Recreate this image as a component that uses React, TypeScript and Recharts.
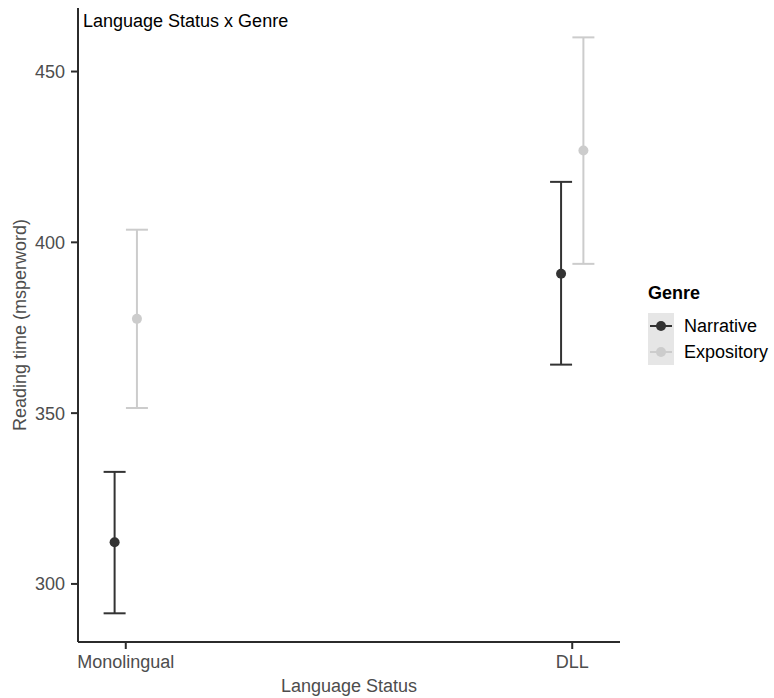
import React from 'react';
import {
  ScatterChart,
  Scatter,
  XAxis,
  YAxis,
  ErrorBar,
  Legend,
  Customized,
} from 'recharts';

// Mean reading time per word with interval bounds, by language status and genre
const categories = ['Monolingual', 'DLL'];
const genres = ['Narrative', 'Expository'];
const genreColors = ['#333333', '#cccccc'];

const narrativeMean = [312.2, 390.8];
const narrativeLow = [291.4, 364.2];
const narrativeHigh = [332.8, 417.7];

const expositoryMean = [377.6, 426.9];
const expositoryLow = [351.5, 393.7];
const expositoryHigh = [403.7, 460.0];

const yTicks = [300, 350, 400, 450];

const FONT = '"Liberation Sans", Arial, Helvetica, sans-serif';
const AXIS_COLOR = '#2b2b2b';
const TEXT_COLOR = '#4d4d4d';

// points are dodged a little either side of the category position
const DODGE = 0.025;

const buildSeries = (mean: number[], low: number[], high: number[], shift: number) =>
  categories.map((cat, i) => ({
    category: cat,
    x: i + 1 + shift,
    y: mean[i],
    err: [mean[i] - low[i], high[i] - mean[i]],
  }));

const narrativeData = buildSeries(narrativeMean, narrativeLow, narrativeHigh, -DODGE);
const expositoryData = buildSeries(expositoryMean, expositoryLow, expositoryHigh, DODGE);

const makeDot = (color: string) => (props: any) =>
  <circle cx={props.cx} cy={props.cy} r={5} fill={color} />;

const ChartTitle = () => (
  <text x={83} y={27} fontSize={18} fill="#000000" fontFamily={FONT}>
    Language Status x Genre
  </text>
);

const YTitle = (props: any) => {
  const vb = props.viewBox || { x: 0, y: 8, width: 78, height: 634 };
  const cx = vb.x + 26;
  const cy = vb.y + vb.height / 2;
  return (
    <text
      x={cx}
      y={cy}
      transform={`rotate(-90 ${cx} ${cy})`}
      textAnchor="middle"
      fontSize={18}
      fill={TEXT_COLOR}
      fontFamily={FONT}
    >
      Reading time (msperword)
    </text>
  );
};

const GenreLegend = ({ payload }: any) => {
  // keep the legend in series order rather than alphabetical
  const items = [...(payload || [])].sort(
    (a: any, b: any) => genres.indexOf(a.value) - genres.indexOf(b.value)
  );
  return (
    <div style={{ fontFamily: FONT, fontSize: 18, color: '#000000' }}>
      <div style={{ fontWeight: 'bold', lineHeight: '20px', height: 30 }}>Genre</div>
      {items.map((entry: any, i: number) => {
        const color = genreColors[genres.indexOf(entry.value)] ?? entry.color;
        return (
          <div key={entry.value ?? i} style={{ display: 'flex', alignItems: 'center', height: 26 }}>
            <svg width={26} height={26} style={{ display: 'block' }}>
              <rect x={0} y={0} width={26} height={26} fill="#e6e6e6" />
              <line x1={2} y1={13} x2={24} y2={13} stroke={color} strokeWidth={2} />
              <circle cx={13} cy={13} r={5} fill={color} />
            </svg>
            <span style={{ marginLeft: 10, lineHeight: '20px' }}>{entry.value}</span>
          </div>
        );
      })}
    </div>
  );
};

const App: React.FC = () => {
  return (
    <div style={{ position: 'absolute', left: 0, top: 0, width: 774, height: 698, background: '#ffffff' }}>
      <ScatterChart
        width={774}
        height={698}
        margin={{ top: 8, right: 154, bottom: 0, left: 0 }}
        style={{ fontFamily: FONT }}
      >
        <XAxis
          type="number"
          dataKey="x"
          domain={[0.893, 2.107]}
          ticks={[1, 2]}
          allowDataOverflow
          tickFormatter={(v: number) => categories[Math.round(v) - 1] ?? ''}
          height={56}
          tickSize={7}
          tickMargin={6}
          axisLine={{ stroke: AXIS_COLOR, strokeWidth: 2 }}
          tickLine={{ stroke: AXIS_COLOR, strokeWidth: 2 }}
          tick={{ fontSize: 18, fill: TEXT_COLOR, fontFamily: FONT }}
          interval={0}
          label={{
            value: 'Language Status',
            position: 'insideBottom',
            offset: 6,
            fontSize: 18,
            fill: TEXT_COLOR,
            fontFamily: FONT,
          }}
        />
        <YAxis
          type="number"
          dataKey="y"
          domain={[283, 468.6]}
          ticks={yTicks}
          allowDataOverflow
          width={78}
          tickSize={7}
          tickMargin={6}
          axisLine={{ stroke: AXIS_COLOR, strokeWidth: 2 }}
          tickLine={{ stroke: AXIS_COLOR, strokeWidth: 2 }}
          tick={{ fontSize: 18, fill: TEXT_COLOR, fontFamily: FONT }}
          interval={0}
          label={<YTitle />}
        />
        <Legend
          layout="vertical"
          align="center"
          verticalAlign="middle"
          content={<GenreLegend />}
          wrapperStyle={{ left: 648, top: 283, width: 126 }}
        />
        <Scatter
          name={genres[0]}
          data={narrativeData}
          fill={genreColors[0]}
          shape={makeDot(genreColors[0])}
          isAnimationActive={false}
        >
          <ErrorBar dataKey="err" direction="y" width={11} stroke={genreColors[0]} strokeWidth={2} />
        </Scatter>
        <Scatter
          name={genres[1]}
          data={expositoryData}
          fill={genreColors[1]}
          shape={makeDot(genreColors[1])}
          isAnimationActive={false}
        >
          <ErrorBar dataKey="err" direction="y" width={11} stroke={genreColors[1]} strokeWidth={2} />
        </Scatter>
        <Customized component={<ChartTitle />} />
      </ScatterChart>
    </div>
  );
};

export default App;
